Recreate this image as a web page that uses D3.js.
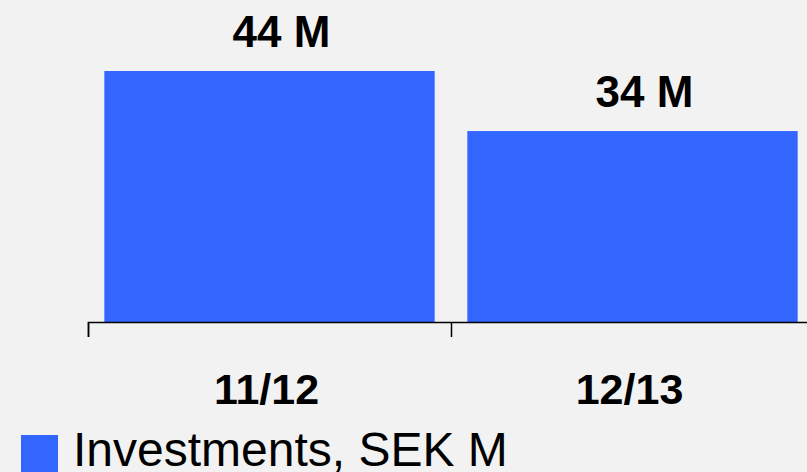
<!DOCTYPE html>
<html>
<head>
<meta charset="utf-8">
<script src="https://cdn.jsdelivr.net/npm/d3@7"></script>
<style>
  body { margin: 0; background: #f2f2f2; }
  text { font-family: "Liberation Sans", Arial, sans-serif; fill: #000; }
</style>
</head>
<body>
<div id="chart"></div>
<script>
// data
let periods = ["11/12", "12/13"];
let investments = [44.3, 33.7];
let valueLabels = ["44 M", "34 M"];
let seriesName = "Investments, SEK M";

let svgWidth = 807;
let svgHeight = 472;

let svg = d3.select("#chart")
    .append("svg")
    .attr("width", svgWidth)
    .attr("height", svgHeight);

svg.append("rect")
    .attr("width", svgWidth)
    .attr("height", svgHeight)
    .attr("fill", "#f2f2f2");

let baseY = 322;

// band scale for the bars
let xScale = d3.scaleBand()
    .domain(periods)
    .range([88, 814])
    .paddingInner(0.09)
    .paddingOuter(0.045);

// band scale with no padding, for category labels
let xCat = d3.scaleBand()
    .domain(periods)
    .range([88, 814]);

// edges of the categories, for the tick marks
let xEdge = d3.scalePoint()
    .domain(d3.range(periods.length + 1))
    .range([88, 814]);

let yScale = d3.scaleLinear()
    .domain([0, 50])
    .range([baseY, baseY - 283.3]);

let data = periods.map((p, i) => ({ period: p, value: investments[i], label: valueLabels[i] }));

svg.selectAll("rect.bar")
    .data(data)
    .enter()
    .append("rect")
    .attr("class", "bar")
    .attr("x", d => xScale(d.period))
    .attr("y", d => yScale(d.value))
    .attr("width", xScale.bandwidth())
    .attr("height", d => baseY - yScale(d.value))
    .attr("fill", "#3366ff");

// axis with ticks at category edges
let xAxis = svg.append("g")
    .attr("transform", `translate(0, ${baseY})`)
    .call(d3.axisBottom(xEdge).tickSize(15).tickSizeOuter(15).tickFormat(""));

xAxis.selectAll("path, line")
    .attr("stroke", "#000")
    .attr("stroke-width", 1.5);

// value labels above the bars
svg.selectAll("text.value")
    .data(data)
    .enter()
    .append("text")
    .attr("class", "value")
    .attr("x", d => xScale(d.period) + xScale.bandwidth() / 2)
    .attr("dx", 12)
    .attr("y", d => yScale(d.value) - 24)
    .attr("text-anchor", "middle")
    .style("font-size", "44px")
    .style("font-weight", "bold")
    .text(d => d.label);

// category labels
svg.selectAll("text.cat")
    .data(periods)
    .enter()
    .append("text")
    .attr("class", "cat")
    .attr("x", d => xCat(d) + xCat.bandwidth() / 2)
    .attr("dx", -3)
    .attr("y", 404)
    .attr("text-anchor", "middle")
    .style("font-size", "43px")
    .style("font-weight", "bold")
    .text(d => d);

// legend
let legend = svg.append("g");
legend.append("rect")
    .attr("x", 21)
    .attr("y", 435)
    .attr("width", 37)
    .attr("height", 37)
    .attr("fill", "#3366ff");
legend.append("text")
    .attr("x", 73)
    .attr("y", 466)
    .style("font-size", "48px")
    .text(seriesName);
</script>
</body>
</html>
